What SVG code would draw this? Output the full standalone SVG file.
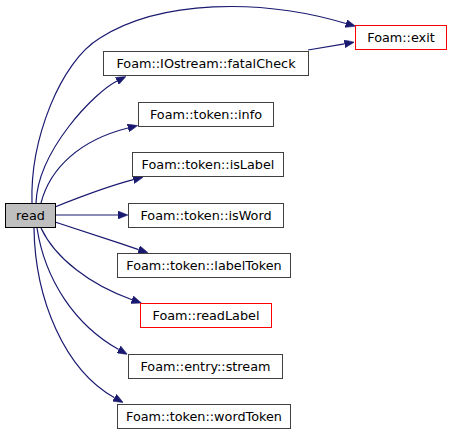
<svg xmlns="http://www.w3.org/2000/svg" width="452" height="437" viewBox="0 0 452 437">
<defs>
<style>
.node rect{fill:#ffffff;stroke:#404040;stroke-width:1}
.node.red rect{stroke:#ff0000}
.node.root rect{fill:#bfbfbf;stroke:#000000}
.node text{font-family:"DejaVu Sans",sans-serif;font-size:12.8px;fill:#000000;text-anchor:middle}
.edges path{fill:none;stroke:#191970;stroke-width:1.2}
</style>
<marker id="arr" markerUnits="userSpaceOnUse" markerWidth="10" markerHeight="8" viewBox="0 0 10 8" refX="0" refY="4" orient="auto">
<path d="M0,0 L10,4 L0,8 z" fill="#191970" stroke="#191970" stroke-width="0.5"/>
</marker>
</defs>
<rect x="0" y="0" width="452" height="437" fill="#ffffff"/>
<g id="edges" class="edges">
<path d="M32,203 C30,140 60,62 100,38 C160,0 260,-2 346,23.5" marker-end="url(#arr)"/>
<path d="M36,203 C38,150 95,92 117,81" marker-end="url(#arr)"/>
<path d="M308,50 L344.5,43.8" marker-end="url(#arr)"/>
<path d="M41,203 C50,168 80,140 128,128" marker-end="url(#arr)"/>
<path d="M55,207 C80,197 105,187 133.4,179.7" marker-end="url(#arr)"/>
<path d="M55,215 L118,215" marker-end="url(#arr)"/>
<path d="M55,222 C80,230 110,240 138.6,249.6" marker-end="url(#arr)"/>
<path d="M41,228 C55,258 90,285 132,299.7" marker-end="url(#arr)"/>
<path d="M37,228 C45,280 75,325 118.7,349.5" marker-end="url(#arr)"/>
<path d="M34,228 C35,300 65,370 114.5,397.7" marker-end="url(#arr)"/>
</g>
<g id="read" class="node root"><rect x="5.5" y="203.5" width="50" height="24"/><text x="30.5" y="220">read</text></g>
<g id="exit" class="node red"><rect x="355.5" y="25.5" width="91" height="24"/><text x="401" y="42">Foam::exit</text></g>
<g id="fatalCheck" class="node"><rect x="103.5" y="51.5" width="205" height="24"/><text x="206" y="68">Foam::IOstream::fatalCheck</text></g>
<g id="info" class="node"><rect x="138.5" y="102.5" width="135" height="24"/><text x="206" y="119">Foam::token::info</text></g>
<g id="isLabel" class="node"><rect x="132.5" y="152.5" width="151" height="24"/><text x="208" y="169">Foam::token::isLabel</text></g>
<g id="isWord" class="node"><rect x="128.5" y="203.5" width="155" height="24"/><text x="206" y="220">Foam::token::isWord</text></g>
<g id="labelToken" class="node"><rect x="117.5" y="253.5" width="173" height="24"/><text x="204" y="270">Foam::token::labelToken</text></g>
<g id="readLabel" class="node red"><rect x="140.5" y="303.5" width="131" height="24"/><text x="206" y="320">Foam::readLabel</text></g>
<g id="stream" class="node"><rect x="128.5" y="354.5" width="154" height="24"/><text x="205.5" y="371">Foam::entry::stream</text></g>
<g id="wordToken" class="node"><rect x="117.5" y="404.5" width="173" height="24"/><text x="204" y="421">Foam::token::wordToken</text></g>
</svg>
